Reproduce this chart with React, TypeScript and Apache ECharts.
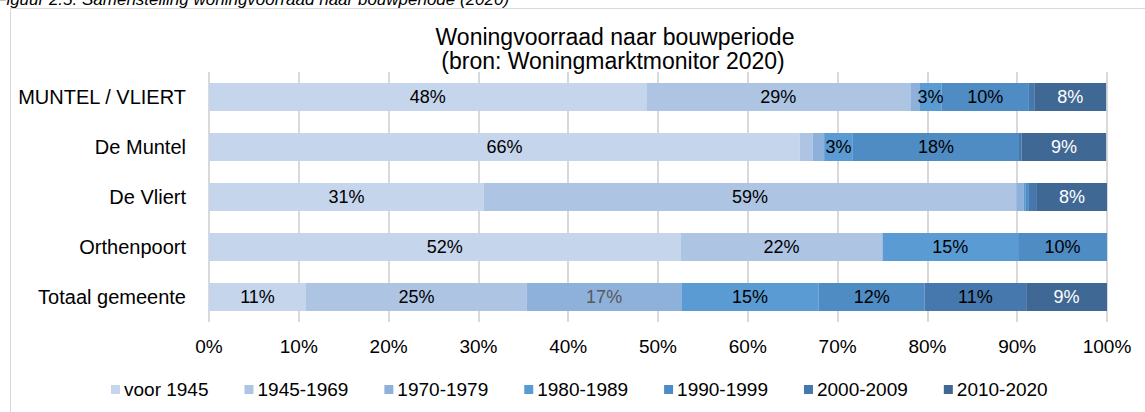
import React, { useEffect, useRef } from "react";
import * as echarts from "echarts";

const categories = ["MUNTEL / VLIERT", "De Muntel", "De Vliert", "Orthenpoort", "Totaal gemeente"];
const periods = ["voor 1945", "1945-1969", "1970-1979", "1980-1989", "1990-1999", "2000-2009", "2010-2020"];
const colors = ["#c5d5eb", "#adc5e3", "#8eb1dc", "#5a9bd3", "#4f8cc4", "#4678ad", "#3f6894"];
const labelColors = ["#000000", "#000000", "#595959", "#000000", "#000000", "#000000", "#ffffff"];

// widths of the segments (percent of each bar)
const voor1945 = [48.7, 65.8, 30.6, 52.5, 10.8];
const p1945_1969 = [29.4, 1.4, 59.3, 22.5, 24.6];
const p1970_1979 = [1.0, 1.3, 0.8, 0, 17.2];
const p1980_1989 = [2.5, 3.2, 0.2, 15.1, 15.3];
const p1990_1999 = [9.7, 18.5, 0.4, 9.9, 11.8];
const p2000_2009 = [0.6, 0.3, 0.9, 0, 11.3];
const p2010_2020 = [8.0, 9.4, 7.8, 0, 9.0];

// data labels as printed on the chart
const lab1945 = ["48%", "66%", "31%", "52%", "11%"];
const lab1945_1969 = ["29%", "", "59%", "22%", "25%"];
const lab1970_1979 = ["", "", "", "", "17%"];
const lab1980_1989 = ["3%", "3%", "", "15%", "15%"];
const lab1990_1999 = ["10%", "18%", "", "10%", "12%"];
const lab2000_2009 = ["", "", "", "", "11%"];
const lab2010_2020 = ["8%", "9%", "8%", "", "9%"];

const xTicks = [0, 10, 20, 30, 40, 50, 60, 70, 80, 90, 100];

const seriesValues = [voor1945, p1945_1969, p1970_1979, p1980_1989, p1990_1999, p2000_2009, p2010_2020];
const seriesLabels = [lab1945, lab1945_1969, lab1970_1979, lab1980_1989, lab1990_1999, lab2000_2009, lab2010_2020];

const FONT = "'Liberation Sans', Arial, sans-serif";

export default function App() {
  const ref = useRef<HTMLDivElement>(null);
  useEffect(() => {
    if (!ref.current) return;
    const chart = echarts.init(ref.current, undefined, { renderer: "svg" });
    chart.setOption({
      animation: false,
      textStyle: { fontFamily: FONT },
      graphic: [
        {
          type: "rect",
          shape: { x: 10.5, y: 8.5, width: 1200, height: 500 },
          style: { fill: "none", stroke: "#d9d9d9", lineWidth: 1 },
          silent: true,
        },
        {
          type: "text",
          x: -4,
          y: 8,
          style: {
            text: "Figuur 2.5: Samenstelling woningvoorraad naar bouwperiode (2020)",
            font: "italic 17px 'Liberation Sans', Arial, sans-serif",
            fill: "#000",
            textVerticalAlign: "bottom",
          },
        },
        {
          type: "text",
          x: 615,
          y: 37,
          style: {
            text: "Woningvoorraad naar bouwperiode",
            font: "23px 'Liberation Sans', Arial, sans-serif",
            fill: "#000",
            textAlign: "center",
            textVerticalAlign: "middle",
          },
        },
        {
          type: "text",
          x: 613,
          y: 61,
          style: {
            text: "(bron: Woningmarktmonitor 2020)",
            font: "23px 'Liberation Sans', Arial, sans-serif",
            fill: "#000",
            textAlign: "center",
            textVerticalAlign: "middle",
          },
        },
      ],
      legend: {
        left: 106,
        top: 375,
        itemWidth: 9,
        itemHeight: 9,
        itemGap: 36,
        icon: "rect",
        textStyle: { fontSize: 19, color: "#000", fontFamily: FONT, padding: [0, 0, 0, -1] },
        data: periods,
      },
      grid: { left: 209, right: 38, top: 72, bottom: 90, containLabel: false },
      xAxis: {
        type: "value",
        min: xTicks[0],
        max: xTicks[xTicks.length - 1],
        interval: 10,
        axisLine: { show: false },
        axisTick: { show: false },
        splitLine: { show: true, lineStyle: { color: "#d9d9d9", width: 2 } },
        axisLabel: { formatter: "{value}%", fontSize: 19, color: "#000", margin: 15, fontFamily: FONT },
      },
      yAxis: {
        type: "category",
        data: categories,
        inverse: true,
        axisLine: { show: false },
        axisTick: { show: false },
        axisLabel: { fontSize: 20, color: "#000", margin: 23, fontFamily: FONT },
      },
      series: periods.map((name, i) => ({
        name,
        type: "bar",
        stack: "total",
        barWidth: 28,
        itemStyle: { color: colors[i] },
        label: {
          show: true,
          position: "inside",
          fontSize: 18,
          color: labelColors[i],
          fontFamily: FONT,
          formatter: (p: any) => seriesLabels[i][p.dataIndex],
        },
        data: seriesValues[i],
      })),
    });
    return () => chart.dispose();
  }, []);
  return <div ref={ref} style={{ position: "fixed", left: 0, top: 0, width: 1145, height: 412, background: "#fff" }} />;
}
